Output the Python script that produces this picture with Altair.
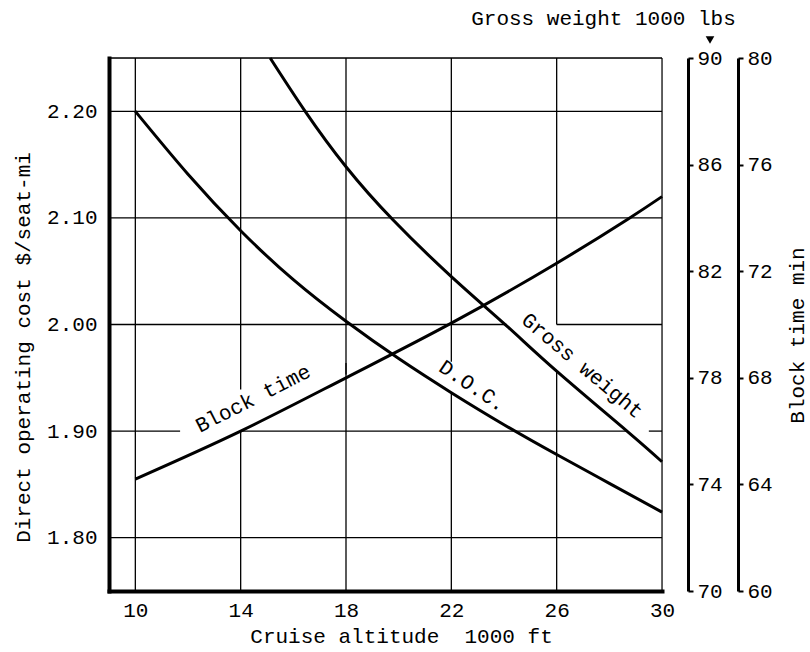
import altair as alt
import pandas as pd

# ---- curve readings (cruise altitude in 1000 ft) ----
doc_alt = [10, 12, 14, 16, 18, 20, 22, 24, 26, 28, 30]
doc_cost = [2.200, 2.141, 2.088, 2.042, 2.003, 1.968, 1.936, 1.906, 1.878, 1.851, 1.824]

gw_alt = [15.12, 16.45, 18, 19.79, 22, 24.1, 26, 28.67, 30]
gw_weight = [90.0, 88.0, 85.92, 83.92, 81.8, 79.95, 78.25, 76.0, 74.85]

bt_alt = [10, 14, 18, 22, 26, 28.7, 30]
bt_minutes = [64.2, 66.0, 68.0, 70.05, 72.3, 73.95, 74.8]

# ---- axis ticks ----
alt_ticks = [10, 14, 18, 22, 26, 30]
cost_ticks = [1.80, 1.90, 2.00, 2.10, 2.20]
gw_ticks = [70, 74, 78, 82, 86, 90]
bt_ticks = [60, 64, 68, 72, 76, 80]

# ---- grid segments (broken where curve labels sit) ----
vgrid_x = [10, 14, 14, 18, 18, 22, 22, 26, 26]
vgrid_lo = [1.75, 1.75, 1.939, 1.75, 1.953, 1.75, 1.965, 1.75, 2.00]
vgrid_hi = [2.25, 1.901, 2.25, 1.964, 2.25, 1.936, 2.25, 1.956, 2.25]

hgrid_y = [2.25, 2.20, 2.10, 2.00, 2.00, 1.90, 1.90, 1.90, 1.80]
hgrid_lo = [9, 9, 9, 9, 26, 9, 14, 29.5, 9]
hgrid_hi = [30, 30, 30, 24.1, 30, 11.7, 28.67, 30, 30]

# ---- curve labels ----
label_text = ["Block time", "D.O.C.", "Gross weight"]
label_alt = [14.48, 22.79, 26.96]
label_cost = [1.930, 1.942, 1.961]
label_angle = [333, 34, 40]

FONT = "Liberation Mono"
FS = 21
W, H = 553, 533

x_scale = alt.Scale(domain=[9, 30], nice=False, zero=False)
cost_scale = alt.Scale(domain=[1.75, 2.25], nice=False, zero=False)
gw_scale = alt.Scale(domain=[70, 90], nice=False, zero=False)
bt_scale = alt.Scale(domain=[60, 80], nice=False, zero=False)

doc_df = pd.DataFrame({"alt": doc_alt, "cost": doc_cost})
gw_df = pd.DataFrame({"alt": gw_alt, "weight": gw_weight})
bt_df = pd.DataFrame({"alt": bt_alt, "minutes": bt_minutes})
vgrid_df = pd.DataFrame({"x": vgrid_x, "lo": vgrid_lo, "hi": vgrid_hi})
hgrid_df = pd.DataFrame({"y": hgrid_y, "lo": hgrid_lo, "hi": hgrid_hi})
label_df = pd.DataFrame({"text": label_text, "alt": label_alt,
                         "cost": label_cost, "angle": label_angle})
edge_df = pd.DataFrame({"x": [30], "lo": [1.75], "hi": [2.25]})

# one shared bottom axis, repeated on every layer so the merge keeps it
x_axis = alt.Axis(
    values=alt_ticks, format="d", orient="bottom",
    domainColor="black", domainWidth=4, domainCap="square",
    ticks=False, grid=False, labelPadding=8, labelFlush=False,
    labelFont=FONT, labelFontSize=FS, labelColor="black",
    title="Cruise altitude\u00a0 1000 ft", titleFont=FONT, titleFontSize=FS,
    titleFontWeight="normal", titleColor="black",
    titleX=292, titleY=51, titleAlign="center", titleBaseline="alphabetic",
)


def xenc(field):
    return alt.X(field, scale=x_scale, axis=x_axis)


vgrid = alt.Chart(vgrid_df).mark_rule(color="black", strokeWidth=1.3).encode(
    x=xenc("x:Q"),
    y=alt.Y("lo:Q", scale=cost_scale, axis=None),
    y2="hi:Q",
)

hgrid = alt.Chart(hgrid_df).mark_rule(color="black", strokeWidth=1.3).encode(
    x=xenc("lo:Q"),
    x2="hi:Q",
    y=alt.Y("y:Q", scale=cost_scale, axis=None),
)

right_edge = alt.Chart(edge_df).mark_rule(color="black", strokeWidth=1.2).encode(
    x=xenc("x:Q"),
    y=alt.Y("lo:Q", scale=cost_scale, axis=None),
    y2="hi:Q",
)

doc_line = alt.Chart(doc_df).mark_line(
    color="black", strokeWidth=3, interpolate="natural"
).encode(
    x=xenc("alt:Q"),
    y=alt.Y("cost:Q", scale=cost_scale, axis=alt.Axis(
        values=cost_ticks, format=".2f", orient="left",
        domainColor="black", domainWidth=4, domainCap="square",
        ticks=False, grid=False, labelPadding=12,
        labelFont=FONT, labelFontSize=FS, labelColor="black",
        title="Direct operating cost $/seat-mi", titleFont=FONT, titleFontSize=FS,
        titleFontWeight="normal", titleColor="black", titleAngle=270,
        titleX=-80, titleY=289, titleAlign="center", titleBaseline="alphabetic",
    )),
)

gw_line = alt.Chart(gw_df).mark_line(
    color="black", strokeWidth=3, interpolate="natural"
).encode(
    x=xenc("alt:Q"),
    y=alt.Y("weight:Q", scale=gw_scale, axis=alt.Axis(
        values=gw_ticks, format="d", orient="right", offset=26,
        domainColor="black", domainWidth=3, grid=False,
        tickColor="black", tickSize=5, tickWidth=2, labelPadding=4,
        labelFont=FONT, labelFontSize=FS, labelColor="black",
        title="Gross weight 1000 lbs", titleFont=FONT, titleFontSize=FS,
        titleFontWeight="normal", titleColor="black", titleAngle=0,
        titleX=-85, titleY=-34, titleAlign="center", titleBaseline="alphabetic",
    )),
)

bt_line = alt.Chart(bt_df).mark_line(
    color="black", strokeWidth=3, interpolate="natural"
).encode(
    x=xenc("alt:Q"),
    y=alt.Y("minutes:Q", scale=bt_scale, axis=alt.Axis(
        values=bt_ticks, format="d", orient="right", offset=76,
        domainColor="black", domainWidth=3, grid=False,
        tickColor="black", tickSize=5, tickWidth=2, labelPadding=4,
        labelFont=FONT, labelFontSize=FS, labelColor="black",
        title="Block time min", titleFont=FONT, titleFontSize=FS,
        titleFontWeight="normal", titleColor="black", titleAngle=270,
        titleX=65, titleY=277, titleAlign="center", titleBaseline="alphabetic",
    )),
)

labels = alt.Chart(label_df).mark_text(
    font=FONT, fontSize=FS, color="black", align="center", baseline="middle"
).encode(
    x=xenc("alt:Q"),
    y=alt.Y("cost:Q", scale=cost_scale, axis=None),
    text="text:N",
    angle=alt.Angle("angle:Q", scale=None),
)

# pointer above the gross-weight scale
pointer = alt.Chart(pd.DataFrame({"k": [0]})).mark_point(
    shape="triangle-down", filled=True, color="black", size=75, opacity=1
).encode(x=alt.value(601), y=alt.value(-18))

chart = alt.layer(
    vgrid, hgrid, right_edge, labels, pointer, doc_line, gw_line, bt_line
).resolve_scale(y="independent").properties(
    width=W, height=H,
    autosize=alt.AutoSizeParams(type="none"),
    padding={"left": 109, "top": 58, "right": 148, "bottom": 61},
).configure_view(stroke=None).configure(background="white")

chart.save("out.html", embed_options={"renderer": "svg", "actions": False})
